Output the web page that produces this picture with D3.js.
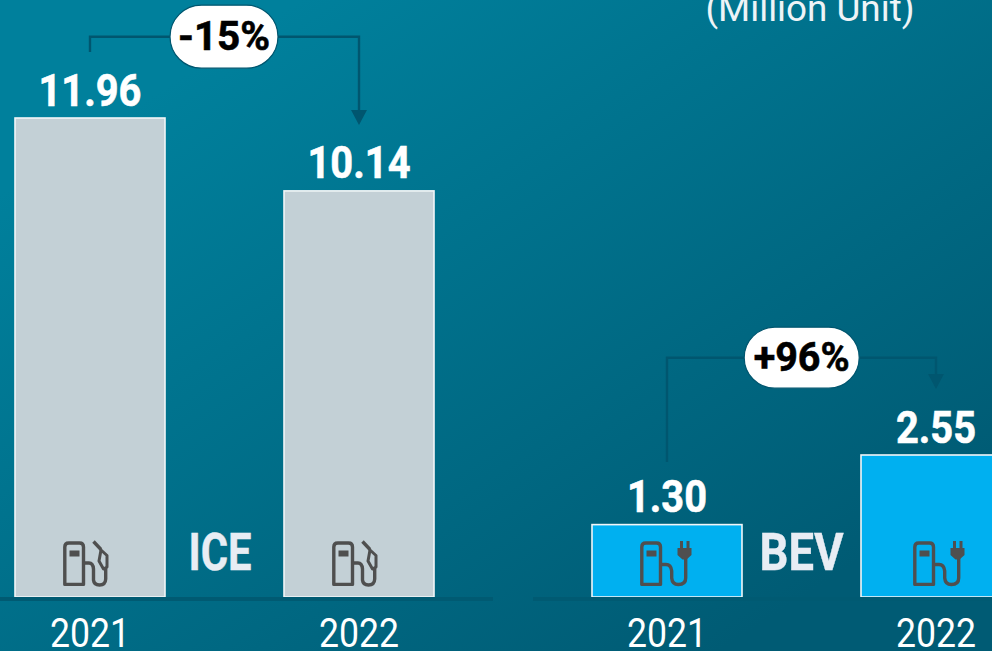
<!DOCTYPE html>
<html><head><meta charset="utf-8">
<script src="https://cdn.jsdelivr.net/npm/d3@7"></script>
<style>html,body{margin:0;padding:0;background:#006a84}svg{display:block}text{font-family:"Roboto","Noto Sans",sans-serif}</style>
</head><body><div id="c"></div>
<script>
const years = ["2021","2022"];
const iceValues = [11.96,10.14];
const bevValues = [1.30,2.55];
const iceLabel = "ICE", bevLabel = "BEV";
const iceChange = "-15%", bevChange = "+96%";
const unitLabel = "(Million Unit)";

const W=992,H=651,base=597,ink="#4f4f4f",lineCol="#00566f";
const svg=d3.select("#c").append("svg").attr("width",W).attr("height",H);
const g=svg.append("defs").append("linearGradient").attr("id","bg").attr("gradientUnits","userSpaceOnUse")
 .attr("x1",300).attr("y1",0).attr("x2",720).attr("y2",651);
g.append("stop").attr("offset",0).attr("stop-color","#00809c");
g.append("stop").attr("offset",1).attr("stop-color","#005b74");
svg.append("rect").attr("width",W).attr("height",H).attr("fill","url(#bg)");

// Icon glyphs, in a local frame whose origin is the bar's centre on the baseline
function icon(sel,cx,kind){
 const i=sel.append("g").attr("transform",`translate(${cx},${base})`).attr("fill","none")
  .attr("stroke",ink).attr("stroke-width",3.4).attr("stroke-linejoin","round");
 i.append("path").attr("d","M-25.2,-12.6 V-50 Q-25.2,-54 -21.2,-54 H-10.5 Q-6.5,-54 -6.5,-50 V-12.6 Z");
 i.append("rect").attr("x",-20.5).attr("y",-46.5).attr("width",10).attr("height",6).attr("fill",ink).attr("stroke","none");
 if(kind==="fuel"){
  i.append("path").attr("d","M-6,-34 H-1 Q3,-34 3.5,-28 V-17 Q4,-12 9.5,-12 Q15.5,-12 15.7,-18 V-29");
  i.append("path").attr("d","M3.5,-55.5 L11,-47.5");
  i.append("path").attr("d","M11,-47 L17,-41.5 V-30 L13.5,-28 L9,-36 Z").attr("stroke-width",3);
 } else {
  i.append("path").attr("d","M-6,-32.5 H-1 Q4,-32.5 4.7,-26 V-19 Q5.3,-12.5 11.3,-12.5 Q18.7,-12.5 18.7,-19 V-42");
  i.append("path").attr("fill",ink).attr("stroke","none")
   .attr("d","M13,-56 h3 v7 h3.5 v-7 h3 v7 h2 v7 l-5,4.5 h-4 l-5,-4.5 v-7 h2.5 Z");
 }
}
function text(sel,x,y,s,size,weight,fill,len,bold){
 const t=sel.append("text").attr("x",x).attr("y",y).attr("text-anchor","middle")
  .attr("font-size",size).attr("font-weight",weight).attr("fill",fill).text(s);
 if(len) t.attr("textLength",len).attr("lengthAdjust","spacingAndGlyphs");
 if(bold) t.attr("stroke",fill).attr("stroke-width",bold);
 return t;
}
function panel(o){
 const x=d3.scaleBand().domain(years).range(o.xr).paddingInner(0.4424);
 const y=d3.scaleLinear().domain([0,o.max]).range([base,o.topY]);
 const p=svg.append("g");
 const c=i=>x(years[i])+x.bandwidth()/2;
 p.append("path").attr("d",`M${c(0)},${o.startY} V${o.connY} H${c(1)} V${o.endY-8}`)
  .attr("fill","none").attr("stroke",lineCol).attr("stroke-width",2.4);
 p.append("path").attr("d",`M${c(1)-8},${o.endY-15} h16 l-8,15 Z`).attr("fill",lineCol);
 p.selectAll("rect.bar").data(o.values).join("rect").attr("class","bar")
  .attr("x",(d,i)=>x(years[i])).attr("y",d=>y(d)).attr("width",x.bandwidth()).attr("height",d=>base-y(d))
  .attr("fill",o.color).attr("stroke","#f2f6f8").attr("stroke-width",1.6);
 years.forEach((yr,i)=>icon(p,c(i)+o.iconDx[i],o.icon));
 p.append("line").attr("x1",o.line[0]).attr("x2",o.line[1]).attr("y1",base+2).attr("y2",base+2)
  .attr("stroke","#005a72").attr("stroke-width",4);
 const ax=p.append("g").attr("transform",`translate(0,${base})`).call(d3.axisBottom(x).tickSize(0).tickPadding(0));
 ax.select(".domain").remove();
 ax.selectAll("text").attr("font-family","Roboto").attr("font-size",40).attr("font-weight",400).attr("fill","#fff")
  .attr("y",50).attr("dy",null).attr("textLength",80).attr("lengthAdjust","spacingAndGlyphs");
 o.values.forEach((d,i)=>text(p,c(i),y(d)-12.5,d.toFixed(2),44,700,"#fff",o.vlen[i],0.6));
 p.append("rect").attr("x",o.pillX-o.pillW/2).attr("y",o.connY-o.pillH/2).attr("width",o.pillW).attr("height",o.pillH).attr("rx",o.pillH/2)
  .attr("fill","#fff").attr("stroke",lineCol).attr("stroke-width",1.2);
 text(p,o.pillX,o.connY+13.5,o.change,40,700,"#000",o.clen,0.6);
 text(p,o.catX,base-27,o.cat,51,700,"#e8edf4",o.catLen,0.4);
}
panel({xr:[15,434],max:11.96,topY:118,values:iceValues,color:"#c3d0d6",icon:"fuel",iconDx:[0,0],line:[0,493],
 startY:52,connY:36.7,endY:125,pillX:224,pillW:108,pillH:63,change:iceChange,clen:92,cat:iceLabel,catX:220,catLen:63,vlen:[103,103]});
panel({xr:[592,1011],max:2.55,topY:455,values:bevValues,color:"#00b0f0",icon:"plug",iconDx:[0,4],line:[533,992],
 startY:462,connY:357.7,endY:389,pillX:801.7,pillW:115,pillH:61,change:bevChange,clen:96,cat:bevLabel,catX:801.5,catLen:84,vlen:[80,80]});
text(svg,810,21,unitLabel,36,400,"#eef4f7",209);
</script></body></html>
